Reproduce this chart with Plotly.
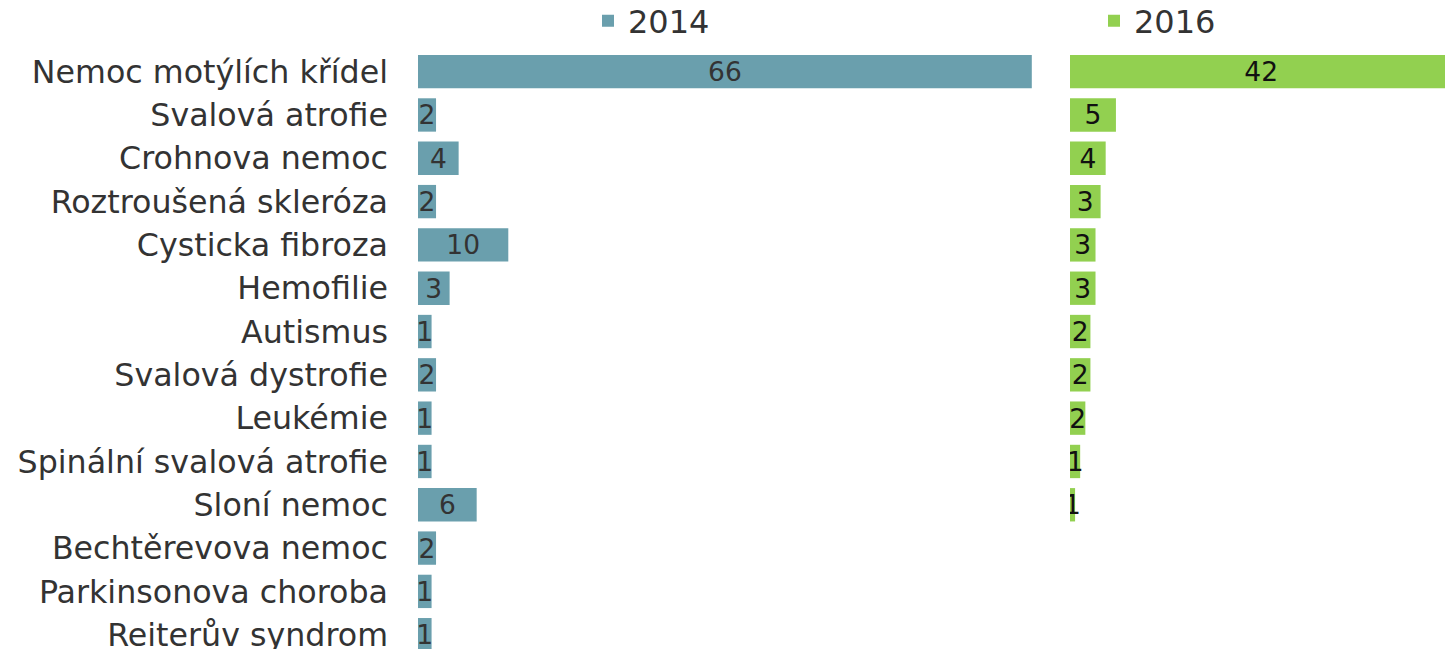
import plotly.graph_objects as go

categories = [
    "Nemoc motýlích křídel", "Svalová atrofie", "Crohnova nemoc",
    "Roztroušená skleróza", "Cysticka fibroza", "Hemofilie", "Autismus",
    "Svalová dystrofie", "Leukémie", "Spinální svalová atrofie",
    "Sloní nemoc", "Bechtěrevova nemoc", "Parkinsonova choroba",
    "Reiterův syndrom",
]
values_2014 = [66.0, 1.94, 4.37, 1.94, 9.71, 3.40, 1.46, 1.94, 1.46, 1.46,
               6.31, 1.94, 1.46, 1.46]
values_2016 = [42.1, 5.06, 3.93, 3.37, 2.81, 2.81, 2.25, 2.25, 1.69, 1.12,
               0.56, None, None, None]
series_names = ["2014", "2016"]

W, H = 1445, 649
FONT = "DejaVu Sans"
C2014 = "#6a9fad"
C2016 = "#92d050"

ML, MR, MT, MB = 0, 0, 50, 0
pw = W - ML - MR
ph = H - MT - MB

fig = go.Figure()
fig.add_trace(go.Bar(
    y=categories, x=values_2014, orientation="h", name=series_names[0],
    marker=dict(color=C2014, line=dict(width=0)),
    text=values_2014, texttemplate="%{x:.0f}", textposition="inside",
    insidetextanchor="middle", constraintext="none", textangle=0,
    insidetextfont=dict(family=FONT, size=26.5, color="#333333"),
    xaxis="x", yaxis="y", legend="legend",
))
fig.add_trace(go.Bar(
    y=categories, x=values_2016, orientation="h", name=series_names[1],
    marker=dict(color=C2016, line=dict(width=0)),
    text=values_2016, texttemplate="%{x:.0f}", textposition="inside",
    insidetextanchor="middle", constraintext="none", textangle=0,
    insidetextfont=dict(family=FONT, size=26.5, color="#111111"),
    xaxis="x2", yaxis="y2", legend="legend2",
))

legend_common = dict(
    orientation="h", xanchor="left", yanchor="middle",
    y=1 + 29 / ph, font=dict(family=FONT, size=32, color="#333333"),
    bgcolor="rgba(0,0,0,0)", borderwidth=0,
)

fig.update_layout(
    width=W, height=H,
    margin=dict(l=ML, r=MR, t=MT, b=MB, pad=0, autoexpand=False),
    paper_bgcolor="white", plot_bgcolor="white",
    bargap=0.23,
    showlegend=True,
    legend=dict(x=588 / pw, **legend_common),
    legend2=dict(x=1094 / pw, **legend_common),
    xaxis=dict(domain=[418 / pw, 1050 / pw], range=[0, 632 / 9.3],
               visible=False, fixedrange=True),
    xaxis2=dict(domain=[1070 / pw, 1.0], range=[0, 375 / 9.08],
                visible=False, fixedrange=True),
    yaxis=dict(type="category", categoryorder="array", categoryarray=categories,
               range=[13.33, -0.5], showgrid=False, zeroline=False,
               showline=False, ticks="", ticklabelstandoff=29, automargin=False,
               tickfont=dict(family=FONT, size=31.7, color="#333333"),
               anchor="x", fixedrange=True),
    yaxis2=dict(type="category", categoryorder="array", categoryarray=categories,
                range=[13.33, -0.5], showgrid=False, zeroline=False,
                showline=False, showticklabels=False, ticks="", automargin=False,
                anchor="x2", matches="y", fixedrange=True),
    font=dict(family=FONT),
)

fig.write_html(
    "out.html",
    config={"displayModeBar": False},
    post_script="document.body.style.margin='0px';document.body.style.overflow='hidden';",
)
